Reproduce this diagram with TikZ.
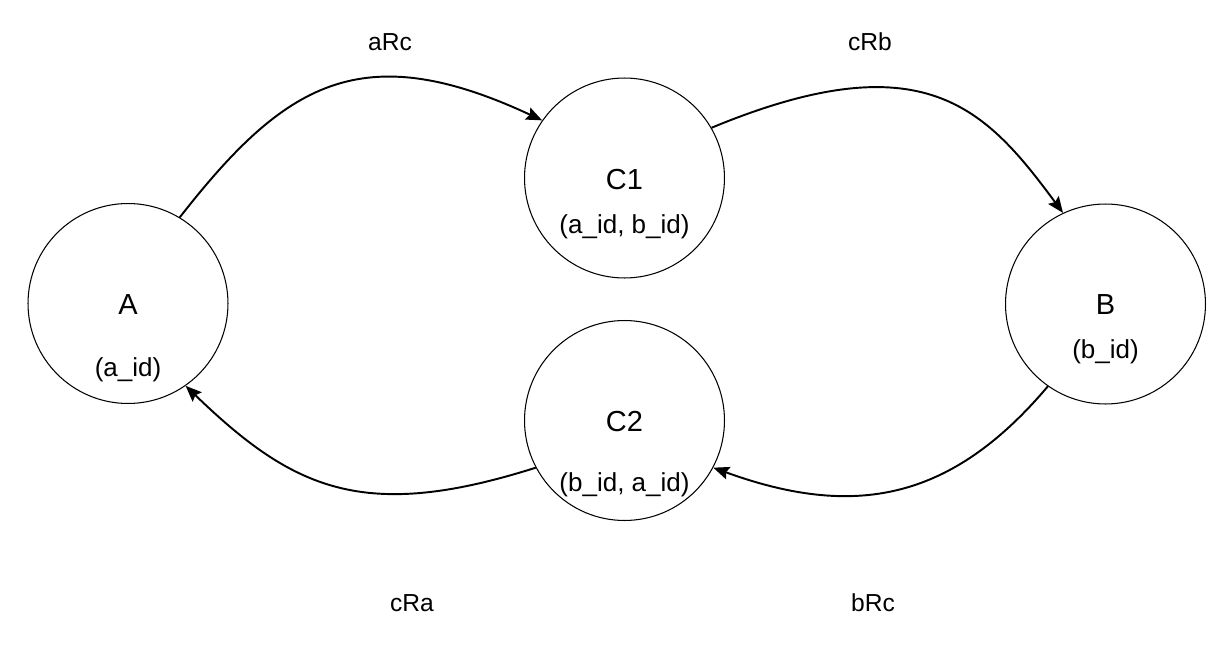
\documentclass[tikz,border=0pt]{standalone}
\usepackage{fontspec}
\setmainfont{Liberation Sans}
\usetikzlibrary{arrows.meta}

\begin{document}
\begin{tikzpicture}[
        x=0.02cm, y=0.02cm,
        >={Stealth[length=3.2mm, width=2.6mm, inset=0.5mm]},
        every node/.style={font=\fontsize{14}{16}\selectfont},
        entity/.style={circle, draw, line width=0.6pt, minimum size=4cm, inner sep=0pt},
        heading/.style={font=\fontsize{16.5}{18}\selectfont},
        key/.style={font=\fontsize{14.8}{17}\selectfont},
        rel/.style={->, line width=1.1pt}
    ]
        \useasboundingbox (0,0) rectangle (1232,-646);

        % entities
        \node[entity] (A) at (128,-303.5) {};
        \node[entity] (C1) at (624.5,-178) {};
        \node[entity] (C2) at (624.5,-420.5) {};
        \node[entity] (B) at (1105.5,-304) {};

        \node[heading] (A-name) at (128,-305) {A};
        \node[key] (A-key) at (128,-370) {(a\_id)};
        \node[heading] (C1-name) at (624.5,-180) {C1};
        \node[key] (C1-key) at (624.5,-227) {(a\_id, b\_id)};
        \node[heading] (C2-name) at (624.5,-422) {C2};
        \node[key] (C2-key) at (624.5,-485) {(b\_id, a\_id)};
        \node[heading] (B-name) at (1105.5,-305) {B};
        \node[key] (B-key) at (1105.5,-352) {(b\_id)};

        % relations
        \draw[rel] (A.59) .. controls +(52:170) and +(155:200) .. (C1.145);
        \draw[rel] (C1.30) .. controls +(22.5:230) and +(126.5:130) .. (B.115);
        \draw[rel] (B.235) .. controls +(229.8:150) and +(340:150) .. (C2.332);
        \draw[rel] (C2.208) .. controls +(197.6:180) and +(316:150) .. (A.305);

        \node (aRc) at (390,-42) {aRc};
        \node (cRb) at (870,-42) {cRb};
        \node (cRa) at (412,-603) {cRa};
        \node (bRc) at (873,-603) {bRc};
    \end{tikzpicture}
\end{document}
